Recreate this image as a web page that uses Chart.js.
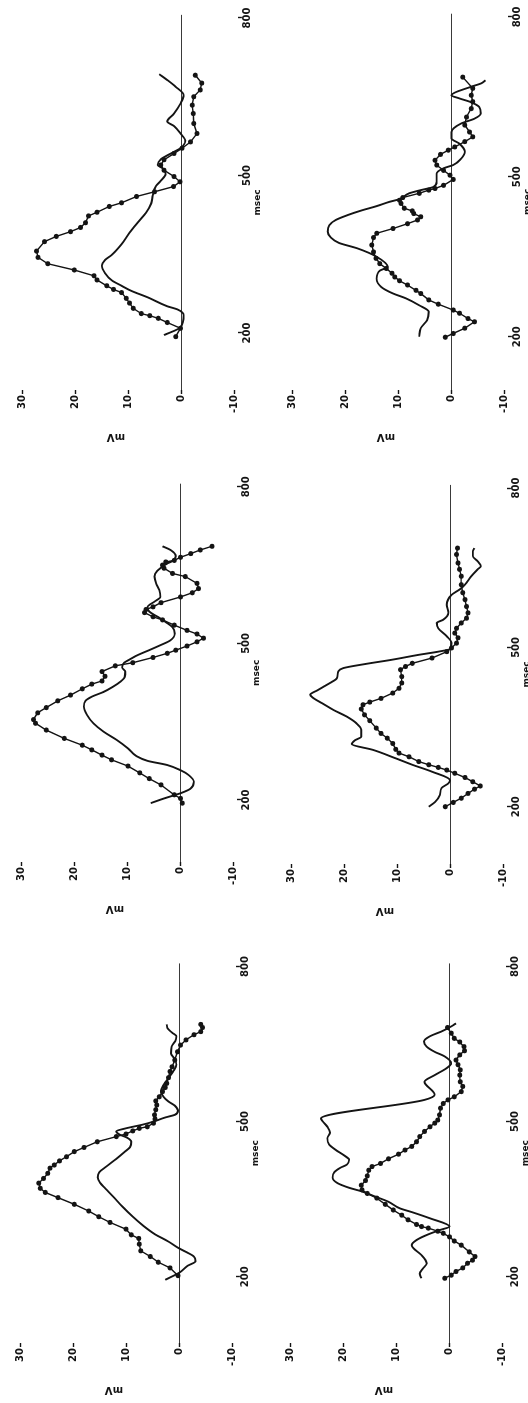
<!DOCTYPE html>
<html>
<head>
<meta charset="utf-8">
<script src="https://cdn.jsdelivr.net/npm/chart.js@4.4.0/dist/chart.umd.min.js"></script>
<style>
html,body{margin:0;padding:0;background:#fff;width:528px;height:1403px;overflow:hidden;position:relative}
.panel{position:absolute;transform-origin:0 0}
.panel canvas{display:block}
</style>
</head>
<body>
<script>
// ---- tick labels ----
const msTicks = [200, 500, 800];
const mvTicks = [-10, 0, 10, 20, 30];
const msTitle = 'msec';
const mvTitle = 'mV';

// ---- top-left panel ----
const tlDotMs = [193,209,220,228,233,237,247,257,266,277,283,290,301,309,320,332,344,356,374,384,393,401,410,423,430,441,448,460,469,479,488,498,510,520,530,542,552,564,580,599,618,634,650,663,676,691];
const tlDotMv = [1.1,0.2,2.7,4.4,6.0,7.6,9.1,9.8,10.4,11.3,12.8,14.1,15.9,16.5,20.2,25.2,27.0,27.3,25.8,23.6,20.9,19.0,18.1,17.5,15.9,13.6,11.3,8.5,5.1,1.5,0.3,1.4,3.3,3.9,3.3,1.4,-0.1,-1.7,-2.9,-2.3,-2.2,-2.0,-2.3,-3.5,-3.8,-2.6];
const tlSolMs = [196,211,234,245,251,268,280,290,300,314,328,339,349,369,391,411,429,447,463,480,490,503,514,520,531,542,552,566,580,594,603,618,637,653,669,682,693];
const tlSolMv = [3.3,0.2,-0.4,0.8,2.7,6.4,9.4,11.3,13.1,14.4,15.0,14.4,13.1,11.3,9.8,8.2,6.7,5.7,5.4,4.8,3.9,3.0,3.6,4.5,3.9,2.0,0.2,-0.7,0.2,1.4,2.7,1.4,0.2,-0.4,1.1,2.7,4.2];

// ---- top-right panel ----
const trDotMs = [199,206,216,228,234,244,250,261,269,281,287,297,305,312,319,328,337,347,359,372,386,394,403,412,419,425,431,436,441,450,456,461,469,475,478,484,495,503,512,522,531,542,550,556,566,575,584,597,612,628,641,653,666,687];
const trDotMv = [1.2,-0.3,-2.5,-4.3,-3.1,-1.5,-0.3,2.5,4.3,5.8,6.7,8.3,9.8,10.7,11.2,12.3,13.5,14.2,14.7,15.0,14.7,14.1,11.0,8.3,6.4,5.8,7.1,7.4,8.9,9.5,9.8,9.2,6.1,4.3,3.1,1.5,-0.3,0.3,1.5,2.8,3.1,2.1,0.6,-0.6,-2.5,-4.0,-3.4,-2.5,-2.8,-3.7,-4.0,-3.7,-4.0,-2.1];
const trSolMs = [200,216,231,247,259,272,281,293,309,324,331,350,366,376,386,397,409,419,428,437,445,453,458,469,475,481,491,506,516,522,534,547,562,572,584,600,609,619,631,641,647,653,669,675,681];
const trSolMv = [6.1,5.8,4.6,4.3,6.1,8.6,11.0,13.2,14.1,13.5,12.0,14.1,17.8,21.2,22.7,23.3,23.0,21.8,19.6,16.9,14.1,11.7,9.8,8.0,5.8,3.4,2.8,2.8,1.5,-0.3,-1.8,-2.5,-1.5,0,0,-1.8,-4.3,-5.5,-5.2,-3.4,-1.5,0,-3.7,-5.5,-6.4];

// ---- middle-left panel ----
const mlDotMs = [194,203,210,229,241,252,265,277,286,296,305,318,334,347,354,367,377,390,401,413,422,428,437,446,457,463,473,481,487,495,503,510,518,525,535,545,551,559,565,570,578,589,597,605,615,628,634,644,650,656,659,665,672,679,686];
const mlDotMv = [-0.3,0,1.2,3.7,5.9,7.7,9.9,13.0,14.8,16.7,18.5,21.9,25.3,27.3,27.7,26.9,25.3,23.1,20.7,18.5,16.7,14.8,14.2,14.8,12.3,9.0,5.2,2.5,0.9,-1.2,-3.1,-4.3,-3.1,-1.2,1.2,3.4,5.2,6.8,6.5,5.2,3.7,0,-2.2,-3.4,-3.1,-0.9,1.5,3.1,3.4,2.8,1.2,0,-1.9,-3.7,-5.9];
const mlSolMs = [194,203,213,222,235,248,257,267,275,284,299,315,331,347,363,379,390,398,407,417,426,436,446,454,463,469,478,487,497,506,519,531,541,551,561,570,580,589,602,615,628,639,647,653,658,667,679,686];
const mlSolMv = [5.6,3.1,0,-1.9,-2.5,-1.5,0,2.5,6.2,8.3,9.9,12.0,14.5,16.4,17.6,18.2,17.9,16.7,14.5,12.7,11.4,10.5,10.4,11.0,10.6,9.6,8.0,5.9,3.7,1.9,1.1,1.5,2.8,4.3,5.9,6.2,4.9,3.8,4.0,4.6,4.9,4.4,3.4,2.5,1.5,0.9,1.9,3.4];

// ---- middle-right panel ----
const mrDotMs = [200,208,216,225,233,239,247,255,263,269,274,279,285,294,301,308,319,329,338,348,362,373,384,392,397,404,414,423,433,445,458,464,470,480,492,499,508,518,527,536,546,555,565,577,590,603,618,634,647,659,675,687];
const mrDotMv = [1.0,-0.5,-2.0,-3.3,-4.5,-5.6,-4.2,-2.7,-0.8,0.7,2.3,4.1,6.0,7.8,9.7,10.3,10.9,11.9,13.1,14.0,15.2,16.2,16.8,16.5,15.2,13.1,10.9,9.7,9.2,9.2,9.4,8.5,7.2,3.5,0.7,-0.2,-1.1,-1.4,-0.8,-1.1,-2.0,-3.0,-3.3,-3.0,-2.7,-2.3,-2.0,-2.0,-1.7,-1.4,-1.1,-1.3];
const mrSolMs = [200,209,222,235,244,250,266,279,291,307,318,325,332,345,357,370,382,395,406,411,419,426,433,442,455,461,469,477,486,492,497,508,521,536,546,552,565,580,599,609,618,634,647,653,662,672,681,687];
const mrSolMv = [4.1,2.9,2.0,1.7,0.4,0.1,3.5,7.2,10.3,14.6,18.6,18.0,16.8,16.8,17.7,19.6,22.0,24.2,26.0,26.4,25.1,23.9,22.7,21.4,21.1,20.2,15.9,10.9,6.0,2.3,0.1,-0.2,0.7,2.3,2.6,1.4,0.4,0.7,-0.2,-1.7,-2.7,-3.9,-5.1,-5.7,-5.1,-4.2,-4.2,-4.5];

// ---- bottom-left panel ----
const blDotMs = [202,217,228,239,250,263,274,281,292,305,316,327,340,353,363,371,381,390,400,410,416,424,432,442,450,461,471,476,482,487,490,497,505,513,523,532,540,548,558,566,574,585,597,606,619,635,648,658,668,674,682,688];
const blDotMv = [0.3,1.8,4.0,5.5,7.3,7.6,7.7,9.1,10.1,13.1,15.2,17.1,19.8,22.9,25.3,26.2,26.5,25.6,24.8,24.4,23.6,22.6,21.3,19.8,18.0,15.5,11.9,10.1,8.8,7.6,6.1,4.9,4.6,4.7,4.5,4.3,4.5,3.8,3.2,2.7,2.4,2.1,1.8,1.4,0.9,0.4,-0.2,-1.2,-2.7,-4.0,-4.3,-4.0];
const blSolMs = [194,208,221,230,239,248,256,268,282,300,316,335,355,371,381,392,402,413,428,441,451,461,469,475,481,487,494,500,508,513,521,531,539,548,558,571,584,597,610,621,632,645,656,665,672,681,688];
const blSolMv = [2.7,0,-1.5,-3.0,-2.7,-1.2,0.3,2.1,4.6,7.0,8.8,10.7,12.5,14.0,14.9,15.4,15.1,13.8,11.9,10.4,9.3,9.1,9.9,11.3,11.9,10.1,7.0,4.9,2.7,0.9,0.3,0.9,2.1,3.0,3.5,3.0,2.1,1.2,0.6,0.9,1.6,1.5,0.8,0.6,1.4,2.3,2.4];

// ---- bottom-right panel ----
const brDotMs = [197,203,210,217,226,232,239,248,261,269,277,284,288,294,297,301,310,319,329,340,352,361,368,377,386,395,406,413,419,428,437,445,452,461,471,481,490,497,503,513,526,535,542,548,558,568,577,590,600,610,619,629,637,645,654,661,671,682];
const brDotMv = [0.9,-0.3,-1.2,-2.5,-3.4,-4.3,-4.8,-3.7,-2.2,-0.9,0,1.2,2.2,4.0,5.3,6.2,7.8,9.0,10.6,12.1,13.7,15.5,16.5,16.6,15.8,15.5,15.2,14.6,13.0,11.5,9.6,8.4,7.1,6.2,5.6,4.7,3.7,2.8,2.2,1.9,1.7,1.2,0.3,-0.9,-2.2,-2.5,-2.0,-1.9,-2.0,-1.6,-1.2,-1.9,-2.8,-2.7,-1.9,-0.9,-0.3,0.4];
const brSolMs = [197,206,216,226,242,255,261,271,282,290,297,313,325,332,345,355,365,372,381,392,402,411,417,426,435,445,456,468,479,490,501,506,542,552,577,590,603,613,626,635,645,655,665,674,684,690];
const brSolMv = [5.3,5.6,5.0,4.3,5.3,6.8,7.1,6.2,4.0,1.9,0,3.7,7.1,9.3,11.5,14.0,16.5,18.9,21.1,22.0,21.7,20.5,19.3,18.9,19.9,21.4,22.7,23.0,22.5,23.0,23.9,24.2,4.7,2.8,4.7,2.8,0.6,-0.3,0.9,2.8,4.3,4.8,3.7,1.6,-0.3,-1.2];

// ---- layout (page geometry of each rotated panel) ----
const LAYOUT = {
  tl: {zeroX: 181,   yLeft: 390,  y200: 333,    pxPerMs: 0.525},
  tr: {zeroX: 450.7, yLeft: 390,  y200: 336.7,  pxPerMs: 0.533},
  ml: {zeroX: 180,   yLeft: 862,  y200: 800,    pxPerMs: 0.522},
  mr: {zeroX: 449.7, yLeft: 864,  y200: 806.7,  pxPerMs: 0.531},
  bl: {zeroX: 178.3, yLeft: 1343, y200: 1276.7, pxPerMs: 0.517},
  br: {zeroX: 449,   yLeft: 1343, y200: 1276.7, pxPerMs: 0.517}
};
const MV_MAX = 35.3, MV_MIN = -10.6, PX_PER_MV = 5.4;
const AXIS_W = 80, PAD_R = 15, H = 274, MS_MAX = 806;
const FONT = "'DejaVu Sans', 'Liberation Sans', Arial, sans-serif";
const INK = '#141414';

function makePanel(key, dotMs, dotMv, solMs, solMv) {
  const g = LAYOUT[key];
  const xMin = 200 - (g.yLeft - g.y200) / g.pxPerMs;
  const cw = (MS_MAX - xMin) * g.pxPerMs;
  const W = Math.ceil(AXIS_W + cw + PAD_R);
  const padR = W - AXIS_W - cw;
  const ch = (MV_MAX - MV_MIN) * PX_PER_MV;
  const axisH = H - ch;
  const L = Math.round(g.zeroX - MV_MAX * PX_PER_MV);
  const T = Math.round(g.yLeft - W + AXIS_W);

  const div = document.createElement('div');
  div.className = 'panel';
  div.style.left = L + 'px';
  div.style.top = T + 'px';
  div.style.width = W + 'px';
  div.style.height = H + 'px';
  div.style.transform = 'translate(0px,' + W + 'px) rotate(-90deg)';
  const c = document.createElement('canvas');
  c.width = W; c.height = H;
  c.style.width = W + 'px'; c.style.height = H + 'px';
  div.appendChild(c);
  document.body.appendChild(div);

  const tickFont = {family: FONT, size: 10, weight: 'bold'};
  new Chart(c, {
    type: 'line',
    data: {
      datasets: [
        {
          data: solMs.map((x, i) => ({x: x, y: solMv[i]})),
          borderColor: INK, borderWidth: 1.9, pointRadius: 0,
          cubicInterpolationMode: 'monotone', fill: false
        },
        {
          data: dotMs.map((x, i) => ({x: x, y: dotMv[i]})),
          borderColor: INK, borderWidth: 1.4, tension: 0,
          pointRadius: 2.5, pointBackgroundColor: INK, pointBorderWidth: 0, fill: false
        }
      ]
    },
    options: {
      responsive: false, animation: false, events: [], devicePixelRatio: 1,
      layout: {padding: {left: 0, top: 0, right: padR, bottom: 0}},
      plugins: {legend: {display: false}, tooltip: {enabled: false}},
      scales: {
        x: {
          type: 'linear', min: xMin, max: MS_MAX,
          border: {display: false},
          grid: {drawOnChartArea: false, drawTicks: true, tickLength: 4, tickColor: INK, tickWidth: 1.4},
          afterBuildTicks: s => { s.ticks = msTicks.map(v => ({value: v})); },
          afterFit: s => { s.height = axisH; s.paddingLeft = 0; s.paddingRight = 0; },
          ticks: {color: INK, font: tickFont, padding: 0, maxRotation: 0, minRotation: 0, autoSkip: false},
          title: {display: true, text: msTitle, color: INK, font: {family: FONT, size: 9, weight: 'bold'}, padding: {top: 0, bottom: 1}}
        },
        y: {
          type: 'linear', min: MV_MIN, max: MV_MAX,
          border: {display: false},
          grid: {
            drawOnChartArea: true, drawTicks: true, tickLength: 4, tickColor: INK, tickWidth: 1.4, lineWidth: 1,
            color: ctx => (ctx.tick && ctx.tick.value === 0) ? '#3a3a3a' : 'rgba(0,0,0,0)'
          },
          afterBuildTicks: s => { s.ticks = mvTicks.map(v => ({value: v})); },
          afterFit: s => { s.width = AXIS_W; s.paddingTop = 0; s.paddingBottom = 0; },
          ticks: {color: INK, font: tickFont, padding: 1},
          title: {display: true, text: mvTitle, color: INK, font: {family: FONT, size: 10, weight: 'bold'}, padding: {top: 27.4, bottom: 0}}
        }
      }
    }
  });
}

makePanel('tl', tlDotMs, tlDotMv, tlSolMs, tlSolMv);
makePanel('tr', trDotMs, trDotMv, trSolMs, trSolMv);
makePanel('ml', mlDotMs, mlDotMv, mlSolMs, mlSolMv);
makePanel('mr', mrDotMs, mrDotMv, mrSolMs, mrSolMv);
makePanel('bl', blDotMs, blDotMv, blSolMs, blSolMv);
makePanel('br', brDotMs, brDotMv, brSolMs, brSolMv);
</script>
</body>
</html>
